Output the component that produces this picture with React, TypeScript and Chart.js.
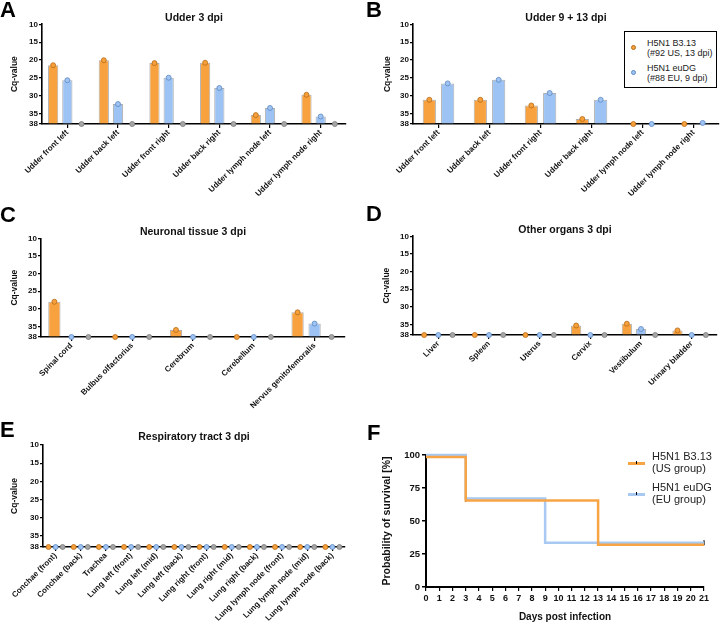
import { useEffect, useRef } from 'react';
import { Chart, registerables } from 'chart.js';

Chart.register(...registerables);

const FAMILY = '"Liberation Sans", Arial, sans-serif';
const INK = '#111';

const ORANGE = '#F8A23F';
const ORANGE_DOT = '#F6A03C';
const ORANGE_EDGE = '#B86A14';
const BLUE = '#9DC3F4';
const BLUE_DOT = '#A0C4F2';
const BLUE_EDGE = '#5C88C4';
const GREY = '#A6A6A6';
const GREY_EDGE = '#7A7A7A';

// ─── Data ─────────────────────────────────────────────────────────────────────

const CQ_TICKS = [10, 15, 20, 25, 30, 35, 38];

const UDDER_LABELS = [
  'Udder front left', 'Udder back left', 'Udder front right',
  'Udder back right', 'Udder lymph node left', 'Udder lymph node right',
];
const A_US = [21.5, 20.1, 20.9, 20.8, 35.5, 29.8];
const A_EU = [25.7, 32.4, 25.0, 27.9, 33.5, 35.9];
const A_CTRL = [38, 38, 38, 38, 38, 38];

const B_US = [31.2, 31.2, 32.8, 36.6, 38, 38];
const B_EU = [26.6, 25.6, 29.3, 31.2, 38, 37.7];

const NEURO_LABELS = ['Spinal cord', 'Bulbus olfactorius', 'Cerebrum', 'Cerebellum', 'Nervus genitofemoralis'];
const C_US = [28.0, 38, 36.0, 38, 31.0];
const C_EU = [38, 38, 38, 38, 34.2];
const C_CTRL = [38, 38, 38, 38, 38];

const ORGAN_LABELS = ['Liver', 'Spleen', 'Uterus', 'Cervix', 'Vestibulum', 'Urinary bladder'];
const D_US = [38, 38, 38, 35.3, 34.8, 36.7];
const D_EU = [38, 38, 38, 38, 36.3, 38];
const D_CTRL = [38, 38, 38, 38, 38, 38];

const RESP_LABELS = [
  'Conchae (front)', 'Conchae (back)', 'Trachea', 'Lung left (front)', 'Lung left (mid)',
  'Lung left (back)', 'Lung right (front)', 'Lung right (mid)', 'Lung right (back)',
  'Lung lymph node (front)', 'Lung lymph node (mid)', 'Lung lymph node (back)',
];
const E_US = [38, 38, 38, 38, 38, 38, 38, 38, 38, 38, 38, 38];
const E_EU = [38, 38, 38, 38, 38, 38, 38, 38, 38, 38, 38, 38];
const E_CTRL = [38, 38, 38, 38, 38, 38, 38, 38, 38, 38, 38, 38];

const US_DAYS = [0, 3, 13, 21];
const US_SURVIVAL = [98.5, 65.5, 32, 32];
const EU_DAYS = [0, 3, 9, 21];
const EU_SURVIVAL = [100, 67, 33.5, 33.5];
const CENSOR_DAYS = [3, 13, 21];
const CENSOR_SURVIVAL = [66.5, 33, 33.5];

// ─── Helpers ──────────────────────────────────────────────────────────────────

type Series = { label: string; data: number[]; fill: string; dot: string; edge: string };

const us = (data: number[]): Series => ({ label: 'H5N1 B3.13', data, fill: ORANGE, dot: ORANGE_DOT, edge: ORANGE_EDGE });
const eu = (data: number[]): Series => ({ label: 'H5N1 euDG', data, fill: BLUE, dot: BLUE_DOT, edge: BLUE_EDGE });
const ctrl = (data: number[]): Series => ({ label: 'Control', data, fill: GREY, dot: GREY, edge: GREY_EDGE });

// circle on top of every bar, like the individual values in the original
const barDots = {
  id: 'barDots',
  afterDatasetsDraw(chart: any) {
    const { ctx } = chart;
    chart.data.datasets.forEach((ds: any, i: number) => {
      const meta = chart.getDatasetMeta(i);
      if (meta.type !== 'bar') return;
      meta.data.forEach((bar: any) => {
        ctx.save();
        ctx.beginPath();
        ctx.arc(bar.x, bar.y, 2.5, 0, Math.PI * 2);
        ctx.fillStyle = ds.dotFill;
        ctx.fill();
        ctx.lineWidth = 0.8;
        ctx.strokeStyle = ds.dotEdge;
        ctx.stroke();
        ctx.restore();
      });
    });
  },
};

type Box = { left: number; top: number; width: number; height: number };

type CqProps = {
  box: Box;
  title: string;
  labels: string[];
  series: Series[];
  axisW: number;
  padRight: number;
  plotTop: number;
  titleY: number;
  axisH: number;
  yTitleX: number;
  catPct: number;
};

function CqPanel({ box, title, labels, series, axisW, padRight, plotTop, titleY, axisH, yTitleX, catPct }: CqProps) {
  const canvasRef = useRef<HTMLCanvasElement>(null);

  useEffect(() => {
    if (!canvasRef.current) return;
    Chart.getChart(canvasRef.current)?.destroy();

    const chart = new Chart(canvasRef.current, {
      type: 'bar',
      data: {
        labels,
        datasets: series.map(s => ({
          label: s.label,
          data: s.data,
          base: 38,
          backgroundColor: s.fill,
          borderColor: 'rgba(110,110,110,0.55)',
          borderWidth: 1,
          borderSkipped: 'start',
          categoryPercentage: catPct,
          barPercentage: 0.72,
          dotFill: s.dot,
          dotEdge: s.edge,
        })) as any,
      },
      options: {
        animation: false,
        responsive: true,
        maintainAspectRatio: false,
        layout: { padding: { left: 0, right: padRight, top: 0, bottom: 0 } },
        plugins: {
          legend: { display: false },
          tooltip: { enabled: false },
          title: {
            display: true,
            text: title,
            fullSize: false,
            color: INK,
            font: { family: FAMILY, size: 10.5, weight: 'bold', lineHeight: 1.2 },
            padding: { top: titleY - 6.3, bottom: Math.max(0, plotTop - titleY - 6.3) },
          },
        },
        scales: {
          x: {
            offset: true,
            grid: { display: true, drawOnChartArea: false, offset: false, color: '#000', tickLength: 4, lineWidth: 1.2 },
            border: { color: '#000', width: 1.6 },
            ticks: {
              autoSkip: false, minRotation: 45, maxRotation: 45, padding: 0, color: INK,
              font: { family: FAMILY, size: 8, weight: 'bold' },
            },
            afterFit: (s: any) => { s.height = axisH; },
          },
          y: {
            reverse: true,
            min: 10,
            max: 38,
            afterBuildTicks: (s: any) => { s.ticks = CQ_TICKS.map(value => ({ value })); },
            grid: { display: true, drawOnChartArea: false, color: '#000', tickLength: 3, lineWidth: 1.2 },
            border: { color: '#000', width: 1.6 },
            ticks: { padding: 1, color: INK, font: { family: FAMILY, size: 8, weight: 'bold' } },
            title: {
              display: true, text: 'Cq-value', color: INK,
              font: { family: FAMILY, size: 8.5, weight: 'bold', lineHeight: 1.2 },
              padding: { top: yTitleX - 5.1, bottom: 0 },
            },
            afterFit: (s: any) => { s.width = axisW; },
          },
        },
      },
      plugins: [barDots],
    });

    return () => { chart.destroy(); };
  }, []);

  return (
    <div style={{ position: 'absolute', ...box }}>
      <canvas ref={canvasRef} />
    </div>
  );
}

function SurvivalPanel({ box }: { box: Box }) {
  const canvasRef = useRef<HTMLCanvasElement>(null);

  useEffect(() => {
    if (!canvasRef.current) return;
    Chart.getChart(canvasRef.current)?.destroy();

    const chart = new Chart(canvasRef.current, {
      type: 'line',
      data: {
        datasets: [
          {
            label: 'H5N1 B3.13 (US group)',
            data: US_DAYS.map((x, i) => ({ x, y: US_SURVIVAL[i] })),
            stepped: true,
            borderColor: '#F7A445',
            borderWidth: 2.5,
            pointRadius: 0,
            clip: false,
          },
          {
            label: 'H5N1 euDG (EU group)',
            data: EU_DAYS.map((x, i) => ({ x, y: EU_SURVIVAL[i] })),
            stepped: true,
            borderColor: '#A7C9F2',
            borderWidth: 2.5,
            pointRadius: 0,
            clip: false,
          },
          {
            label: 'censored',
            type: 'scatter',
            data: CENSOR_DAYS.map((x, i) => ({ x, y: CENSOR_SURVIVAL[i] })),
            pointStyle: 'line',
            rotation: 90,
            pointRadius: 2.5,
            borderColor: '#000',
            borderWidth: 1.2,
            clip: false,
          },
        ] as any,
      },
      options: {
        animation: false,
        responsive: true,
        maintainAspectRatio: false,
        layout: { padding: { left: 0, right: 16, top: 40, bottom: 0 } },
        plugins: { legend: { display: false }, tooltip: { enabled: false } },
        scales: {
          x: {
            type: 'linear',
            min: 0,
            max: 21,
            grid: { display: true, drawOnChartArea: false, color: '#000', tickLength: 4, lineWidth: 1.2 },
            border: { color: '#000', width: 2 },
            ticks: {
              stepSize: 1, autoSkip: false, maxRotation: 0, padding: 2, color: INK,
              font: { family: FAMILY, size: 9, weight: 'bold' },
            },
            title: {
              display: true, text: 'Days post infection', color: INK,
              font: { family: FAMILY, size: 10, weight: 'bold', lineHeight: 1.2 },
              padding: { top: 0, bottom: 4 },
            },
            afterFit: (s: any) => { s.height = 40; },
          },
          y: {
            min: 0,
            max: 100,
            grid: { display: true, drawOnChartArea: false, color: '#000', tickLength: 4, lineWidth: 1.5 },
            border: { color: '#000', width: 2 },
            ticks: { stepSize: 25, padding: 2, color: INK, font: { family: FAMILY, size: 9.5, weight: 'bold' } },
            title: {
              display: true, text: 'Probability of survival [%]', color: INK,
              font: { family: FAMILY, size: 10.5, weight: 'bold', lineHeight: 1.2 },
              padding: { top: 21, bottom: 0 },
            },
            afterFit: (s: any) => { s.width = 66; },
          },
        },
      },
    });

    return () => { chart.destroy(); };
  }, []);

  return (
    <div style={{ position: 'absolute', ...box }}>
      <canvas ref={canvasRef} />
    </div>
  );
}

// ─── Layout ───────────────────────────────────────────────────────────────────

const letter = (text: string, left: number, top: number) => (
  <div style={{
    position: 'absolute', left, top, font: `bold 22px ${FAMILY}`, lineHeight: 1, color: '#000',
  }}>{text}</div>
);

const dotItem = (color: string, edge: string, top: number, l1: string, l2: string) => (
  <>
    <div style={{
      position: 'absolute', left: 6, top: top + 6, width: 5, height: 5, borderRadius: '50%',
      background: color, border: `0.8px solid ${edge}`, boxSizing: 'border-box',
    }} />
    <div style={{ position: 'absolute', left: 22, top, lineHeight: '9.5px', whiteSpace: 'nowrap' }}>
      {l1}<br />{l2}
    </div>
  </>
);

const lineItem = (color: string, top: number, l1: string, l2: string) => (
  <>
    <div style={{ position: 'absolute', left: 628, top: top + 11, width: 17, height: 2.5, background: color }} />
    <div style={{ position: 'absolute', left: 636, top: top + 10, width: 1, height: 3, background: '#000' }} />
    <div style={{
      position: 'absolute', left: 652, top, font: `11px ${FAMILY}`, lineHeight: '11.5px',
      color: '#222', whiteSpace: 'nowrap',
    }}>
      {l1}<br />{l2}
    </div>
  </>
);

export default function App() {
  return (
    <div style={{ position: 'absolute', left: 0, top: 0, width: 720, height: 627, background: '#fff', overflow: 'hidden' }}>
      <CqPanel
        box={{ left: 0, top: 0, width: 360, height: 205 }}
        title="Udder 3 dpi" labels={UDDER_LABELS}
        series={[us(A_US), eu(A_EU), ctrl(A_CTRL)]}
        axisW={42} padRight={14} plotTop={23} titleY={18} axisH={81} yTitleX={15} catPct={0.84}
      />
      <CqPanel
        box={{ left: 360, top: 0, width: 360, height: 205 }}
        title="Udder 9 + 13 dpi" labels={UDDER_LABELS}
        series={[us(B_US), eu(B_EU)]}
        axisW={53} padRight={1} plotTop={23} titleY={18} axisH={81} yTitleX={28} catPct={0.72}
      />
      <CqPanel
        box={{ left: 0, top: 205, width: 360, height: 210 }}
        title="Neuronal tissue 3 dpi" labels={NEURO_LABELS}
        series={[us(C_US), eu(C_EU), ctrl(C_CTRL)]}
        axisW={41} padRight={15} plotTop={31} titleY={27} axisH={78} yTitleX={15} catPct={0.84}
      />
      <CqPanel
        box={{ left: 360, top: 205, width: 360, height: 210 }}
        title="Other organs 3 dpi" labels={ORGAN_LABELS}
        series={[us(D_US), eu(D_EU), ctrl(D_CTRL)]}
        axisW={53} padRight={3} plotTop={29} titleY={25} axisH={80} yTitleX={27} catPct={0.84}
      />
      <CqPanel
        box={{ left: 0, top: 415, width: 360, height: 212 }}
        title="Respiratory tract 3 dpi" labels={RESP_LABELS}
        series={[us(E_US), eu(E_EU), ctrl(E_CTRL)]}
        axisW={43} padRight={15} plotTop={30} titleY={22} axisH={80} yTitleX={15} catPct={0.84}
      />
      <SurvivalPanel box={{ left: 360, top: 415, width: 360, height: 212 }} />

      {letter('A', 0, -1)}
      {letter('B', 366, -1)}
      {letter('C', 0, 204)}
      {letter('D', 366, 203)}
      {letter('E', 0, 419)}
      {letter('F', 367, 422)}

      <div style={{
        position: 'absolute', left: 624, top: 31, width: 93, height: 57, border: '1px solid #000',
        boxSizing: 'border-box', background: '#fff', font: `9px ${FAMILY}`, color: '#222',
      }}>
        {dotItem(ORANGE_DOT, ORANGE_EDGE, 7, 'H5N1 B3.13', '(#92 US, 13 dpi)')}
        {dotItem(BLUE_DOT, BLUE_EDGE, 32, 'H5N1 euDG', '(#88 EU, 9 dpi)')}
      </div>

      {lineItem('#F7A445', 451, 'H5N1 B3.13', '(US group)')}
      {lineItem('#A7C9F2', 482, 'H5N1 euDG', '(EU group)')}
    </div>
  );
}
